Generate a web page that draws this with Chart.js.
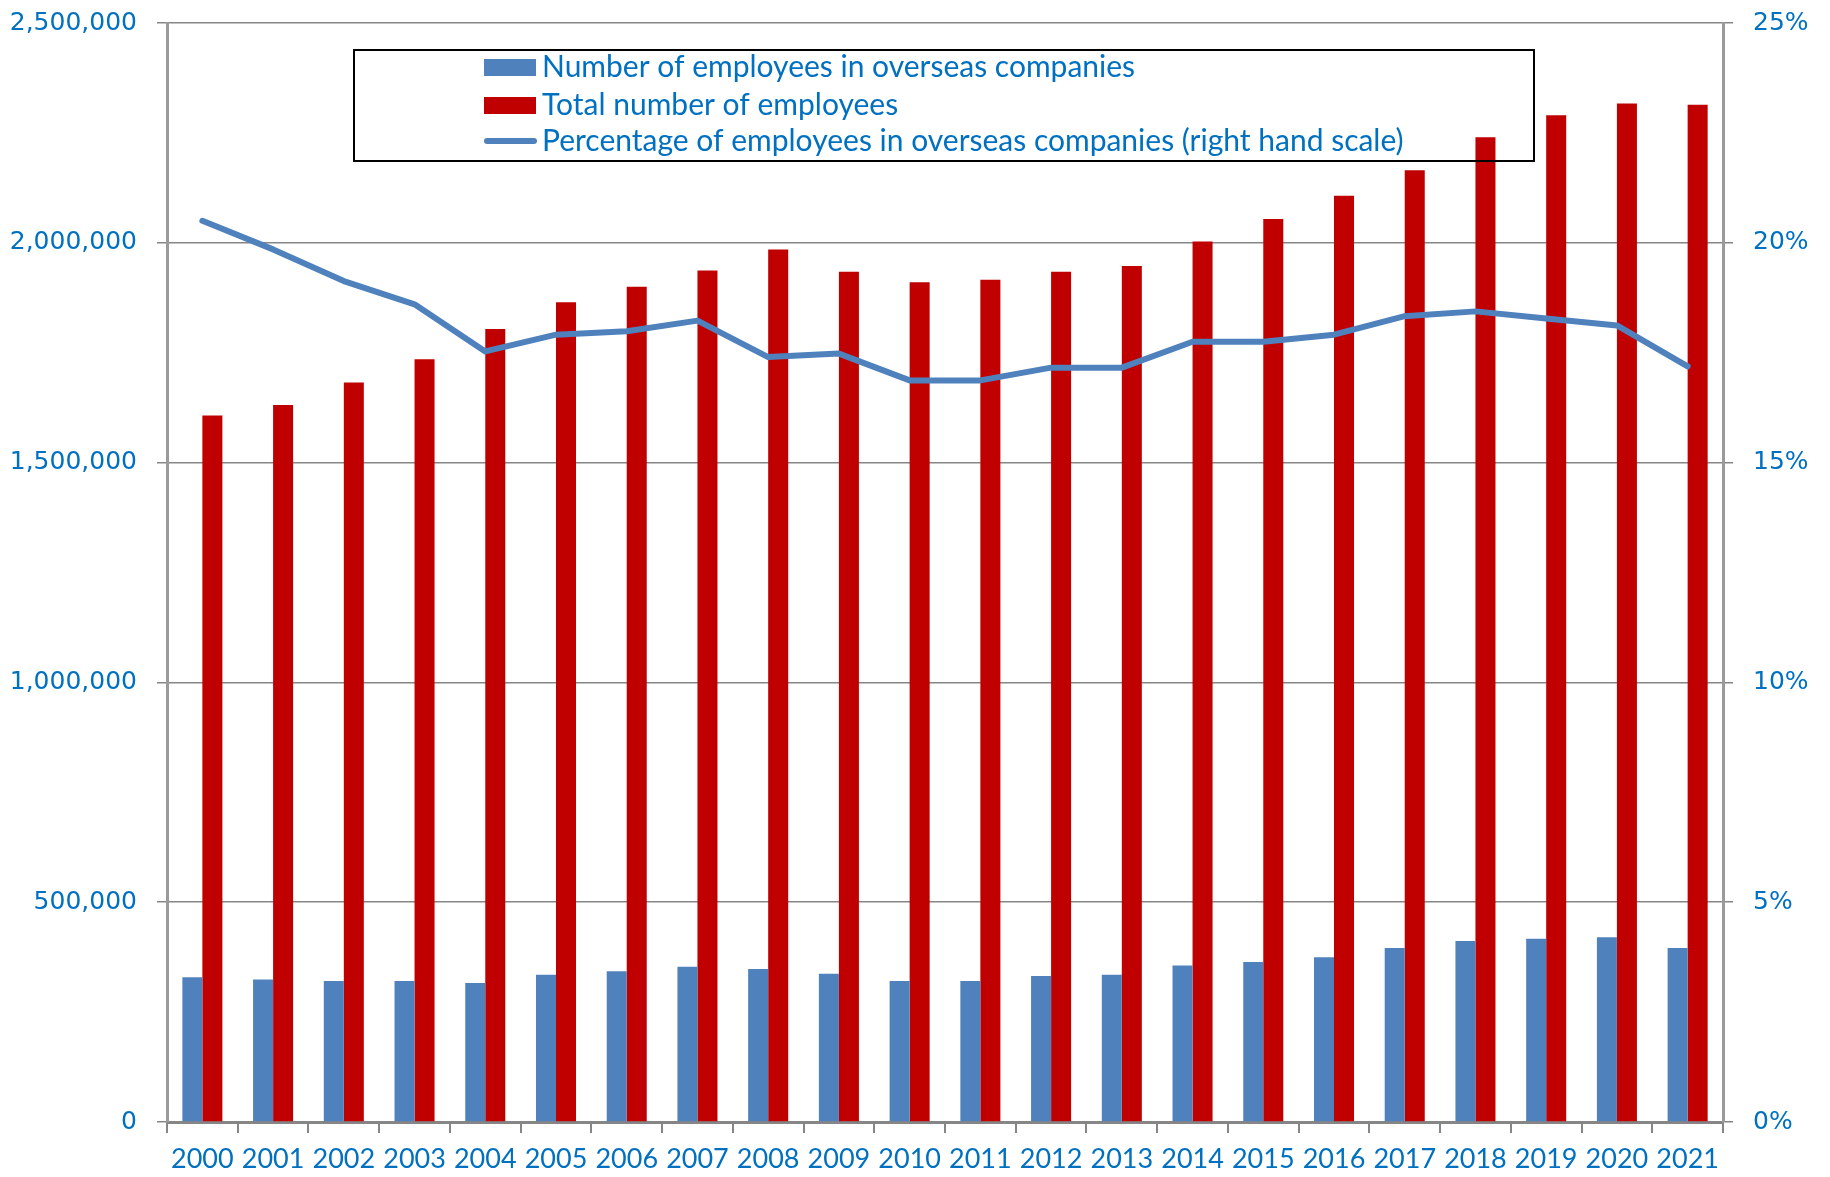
<!DOCTYPE html>
<html>
<head>
<meta charset="utf-8">
<script src="https://cdn.jsdelivr.net/npm/chart.js@4.4.1/dist/chart.umd.min.js"></script>
<style>
  html, body { margin: 0; padding: 0; background: #ffffff; }
  #wrap { width: 1830px; height: 1177px; }
</style>
</head>
<body>
<div id="wrap"><canvas id="c" width="1830" height="1177"></canvas></div>
<script>
const years = ['2000','2001','2002','2003','2004','2005','2006','2007','2008','2009','2010','2011','2012','2013','2014','2015','2016','2017','2018','2019','2020','2021'];
const overseasEmployees = [329000,324000,321000,321000,316000,335000,343000,353000,348000,337000,321000,321000,332000,335000,356000,364000,375000,396000,412000,417000,420000,396000];
const totalEmployees = [1607000,1631000,1682000,1735000,1804000,1865000,1900000,1937000,1985000,1934000,1910000,1916000,1934000,1947000,2003000,2054000,2107000,2165000,2240000,2290000,2317000,2314000];
const overseasSharePct = [20.5,19.85,19.13,18.6,17.53,17.91,17.99,18.23,17.4,17.48,16.87,16.87,17.16,17.16,17.75,17.75,17.91,18.33,18.44,18.28,18.12,17.19];
const leftTickValues = [0,500000,1000000,1500000,2000000,2500000];
const rightTickValues = [0,5,10,15,20,25];
const legendLabels = ['Number of employees in overseas companies','Total number of employees','Percentage of employees in overseas companies (right hand scale)'];

const BLUE = '#4F81BD';
const RED = '#C00000';
const TEXT = '#0070C0';
const GRID = '#868686';

const legendPlugin = {
  id: 'boxLegend',
  afterDraw(chart) {
    const ctx = chart.ctx;
    ctx.save();
    ctx.strokeStyle = '#000000';
    ctx.lineWidth = 2;
    ctx.strokeRect(354, 50, 1180, 111);
    ctx.font = '30px Lato';
    ctx.textBaseline = 'middle';
    const rows = [67, 105, 141];
    const ds = chart.data.datasets;
    ctx.fillStyle = ds[1].backgroundColor;
    ctx.fillRect(484, rows[0] - 8, 52, 17);
    ctx.fillStyle = ds[2].backgroundColor;
    ctx.fillRect(484, rows[1] - 8, 52, 17);
    ctx.strokeStyle = ds[0].borderColor;
    ctx.lineWidth = 6;
    ctx.lineCap = 'round';
    ctx.beginPath();
    ctx.moveTo(487, rows[2]);
    ctx.lineTo(534, rows[2]);
    ctx.stroke();
    ctx.fillStyle = TEXT;
    ctx.textAlign = 'left';
    ctx.fillText(legendLabels[0], 542, rows[0]);
    ctx.fillText(legendLabels[1], 542, rows[1]);
    ctx.fillText(legendLabels[2], 542, rows[2]);
    ctx.restore();
  }
};

new Chart(document.getElementById('c'), {
  type: 'bar',
  data: {
    labels: years,
    datasets: [
      {
        type: 'line',
        label: legendLabels[2],
        data: overseasSharePct,
        yAxisID: 'y1',
        borderColor: BLUE,
        borderWidth: 6,
        pointRadius: 0,
        tension: 0,
        borderCapStyle: 'round',
        borderJoinStyle: 'round',
        order: 0
      },
      {
        label: legendLabels[0],
        data: overseasEmployees,
        yAxisID: 'y',
        backgroundColor: BLUE,
        borderWidth: 0,
        categoryPercentage: 0.566,
        barPercentage: 1.0,
        order: 1
      },
      {
        label: legendLabels[1],
        data: totalEmployees,
        yAxisID: 'y',
        backgroundColor: RED,
        borderWidth: 0,
        categoryPercentage: 0.566,
        barPercentage: 1.0,
        order: 2
      }
    ]
  },
  options: {
    responsive: false,
    devicePixelRatio: 1,
    animation: false,
    layout: { padding: { top: 23, left: 0, right: 0, bottom: 0 } },
    plugins: { legend: { display: false }, tooltip: { enabled: false } },
    scales: {
      x: {
        grid: { offset: true, drawOnChartArea: false, tickLength: 11, color: GRID, lineWidth: 2 },
        border: { color: GRID, width: 3 },
        ticks: { color: TEXT, font: { family: 'Lato', size: 27 }, padding: 10, maxRotation: 0, autoSkip: false },
        afterFit: s => { s.height = 55; s.paddingLeft = 0; s.paddingRight = 0; }
      },
      y: {
        position: 'left',
        min: 0, max: 2500000,
        afterBuildTicks: s => { s.ticks = leftTickValues.map(v => ({ value: v })); },
        ticks: {
          color: TEXT, font: { family: 'DejaVu Sans', size: 25 }, padding: 20,
          callback: v => Number(v).toLocaleString('en-US')
        },
        grid: { color: GRID, lineWidth: 1.5, tickLength: 10 },
        border: { color: '#9a9a9a', width: 3 },
        afterFit: s => { s.width = 167; s.paddingTop = 0; s.paddingBottom = 0; }
      },
      y1: {
        position: 'right',
        min: 0, max: 25,
        afterBuildTicks: s => { s.ticks = rightTickValues.map(v => ({ value: v })); },
        ticks: {
          color: TEXT, font: { family: 'DejaVu Sans', size: 25 }, padding: 20,
          callback: v => v + '%'
        },
        grid: { drawOnChartArea: false, color: GRID, lineWidth: 1.5, tickLength: 10 },
        border: { color: '#9a9a9a', width: 3 },
        afterFit: s => { s.width = 107; s.paddingTop = 0; s.paddingBottom = 0; }
      }
    }
  },
  plugins: [legendPlugin]
});
</script>
</body>
</html>
